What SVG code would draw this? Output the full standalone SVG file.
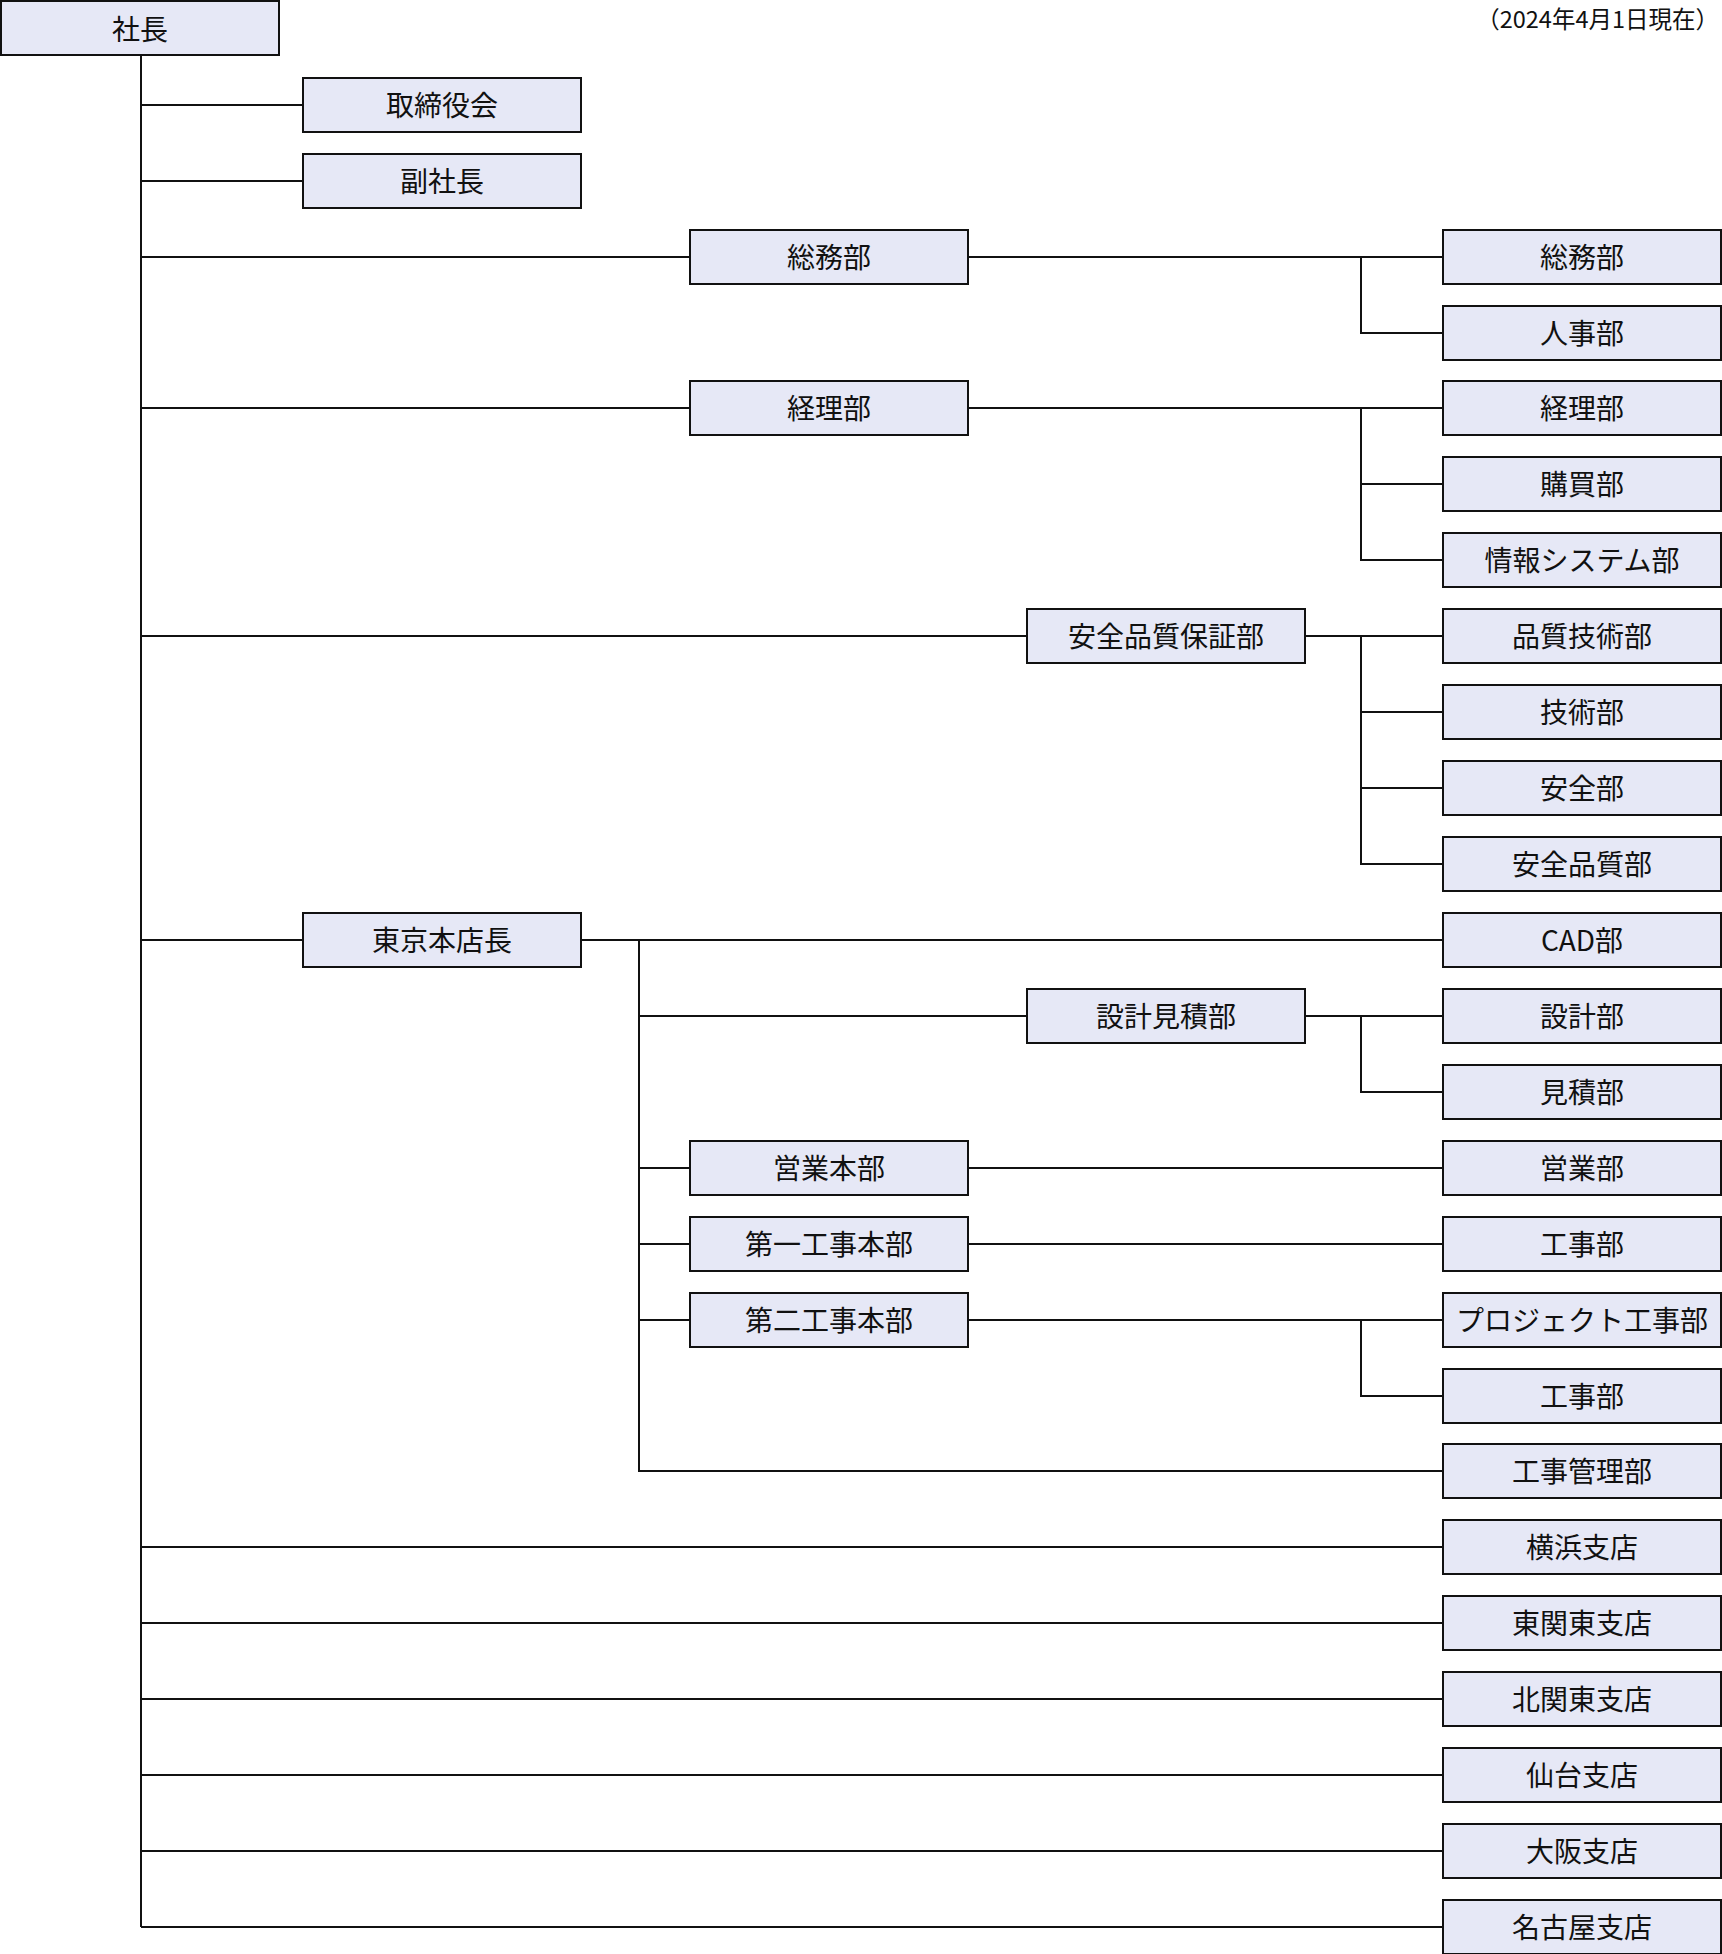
<svg xmlns="http://www.w3.org/2000/svg" width="1722" height="1954" viewBox="0 0 1722 1954">
<style>
.box{fill:#e6e8f6;stroke:#111;stroke-width:2}
.lbl{font-family:"Noto Sans CJK JP","Noto Sans",sans-serif;font-size:28px;fill:#111;text-anchor:middle;dominant-baseline:central}
.con{fill:none;stroke:#111;stroke-width:2}
.note{font-family:"Noto Sans CJK JP","Noto Sans",sans-serif;font-size:23.5px;fill:#111;text-anchor:end}
</style>
<rect width="1722" height="1954" fill="#fff"/>
<text class="note" x="1719" y="28">（2024年4月1日現在）</text>
<g id="connectors" class="con">
<path d="M141 55V1927"/>
<path d="M141 105H303M141 181H303"/>
<path d="M141 257H690M968 257H1443M1361 257V333H1443"/>
<path d="M141 408H690M968 408H1443M1361 408V560H1443M1361 484H1443"/>
<path d="M141 636H1027M1305 636H1443M1361 636V864H1443M1361 712H1443M1361 788H1443"/>
<path d="M141 940H303M581 940H1443M639 940V1471H1443"/>
<path d="M639 1016H1027M1305 1016H1443M1361 1016V1092H1443"/>
<path d="M639 1168H690M968 1168H1443"/>
<path d="M639 1244H690M968 1244H1443"/>
<path d="M639 1320H690M968 1320H1443M1361 1320V1396H1443"/>
<path d="M141 1547H1443M141 1623H1443M141 1699H1443M141 1775H1443M141 1851H1443M141 1927H1443"/>
</g>
<g id="n-shacho"><rect class="box" x="1" y="1" width="278" height="54"/><text class="lbl" x="140" y="28">社長</text></g>
<g id="n-torishimariyakukai"><rect class="box" x="303" y="78" width="278" height="54"/><text class="lbl" x="442" y="104">取締役会</text></g>
<g id="n-fukushacho"><rect class="box" x="303" y="154" width="278" height="54"/><text class="lbl" x="442" y="180">副社長</text></g>
<g id="n-somu"><rect class="box" x="690" y="230" width="278" height="54"/><text class="lbl" x="829" y="256">総務部</text></g>
<g id="n-somu2"><rect class="box" x="1443" y="230" width="278" height="54"/><text class="lbl" x="1582" y="256">総務部</text></g>
<g id="n-jinji"><rect class="box" x="1443" y="306" width="278" height="54"/><text class="lbl" x="1582" y="332">人事部</text></g>
<g id="n-keiri"><rect class="box" x="690" y="381" width="278" height="54"/><text class="lbl" x="829" y="407">経理部</text></g>
<g id="n-keiri2"><rect class="box" x="1443" y="381" width="278" height="54"/><text class="lbl" x="1582" y="407">経理部</text></g>
<g id="n-kobai"><rect class="box" x="1443" y="457" width="278" height="54"/><text class="lbl" x="1582" y="483">購買部</text></g>
<g id="n-joho"><rect class="box" x="1443" y="533" width="278" height="54"/><text class="lbl" x="1582" y="559">情報システム部</text></g>
<g id="n-anzenhinshitsuhosho"><rect class="box" x="1027" y="609" width="278" height="54"/><text class="lbl" x="1166" y="635">安全品質保証部</text></g>
<g id="n-hinshitsugijutsu"><rect class="box" x="1443" y="609" width="278" height="54"/><text class="lbl" x="1582" y="635">品質技術部</text></g>
<g id="n-gijutsu"><rect class="box" x="1443" y="685" width="278" height="54"/><text class="lbl" x="1582" y="711">技術部</text></g>
<g id="n-anzen"><rect class="box" x="1443" y="761" width="278" height="54"/><text class="lbl" x="1582" y="787">安全部</text></g>
<g id="n-anzenhinshitsu"><rect class="box" x="1443" y="837" width="278" height="54"/><text class="lbl" x="1582" y="863">安全品質部</text></g>
<g id="n-tokyo"><rect class="box" x="303" y="913" width="278" height="54"/><text class="lbl" x="442" y="939">東京本店長</text></g>
<g id="n-cad"><rect class="box" x="1443" y="913" width="278" height="54"/><text class="lbl" x="1582" y="939">CAD部</text></g>
<g id="n-sekkeimitsumori"><rect class="box" x="1027" y="989" width="278" height="54"/><text class="lbl" x="1166" y="1015">設計見積部</text></g>
<g id="n-sekkei"><rect class="box" x="1443" y="989" width="278" height="54"/><text class="lbl" x="1582" y="1015">設計部</text></g>
<g id="n-mitsumori"><rect class="box" x="1443" y="1065" width="278" height="54"/><text class="lbl" x="1582" y="1091">見積部</text></g>
<g id="n-eigyohonbu"><rect class="box" x="690" y="1141" width="278" height="54"/><text class="lbl" x="829" y="1167">営業本部</text></g>
<g id="n-eigyo"><rect class="box" x="1443" y="1141" width="278" height="54"/><text class="lbl" x="1582" y="1167">営業部</text></g>
<g id="n-daiichi"><rect class="box" x="690" y="1217" width="278" height="54"/><text class="lbl" x="829" y="1243">第一工事本部</text></g>
<g id="n-koji1"><rect class="box" x="1443" y="1217" width="278" height="54"/><text class="lbl" x="1582" y="1243">工事部</text></g>
<g id="n-daini"><rect class="box" x="690" y="1293" width="278" height="54"/><text class="lbl" x="829" y="1319">第二工事本部</text></g>
<g id="n-project"><rect class="box" x="1443" y="1293" width="278" height="54"/><text class="lbl" x="1582" y="1319">プロジェクト工事部</text></g>
<g id="n-koji2"><rect class="box" x="1443" y="1369" width="278" height="54"/><text class="lbl" x="1582" y="1395">工事部</text></g>
<g id="n-kojikanri"><rect class="box" x="1443" y="1444" width="278" height="54"/><text class="lbl" x="1582" y="1470">工事管理部</text></g>
<g id="n-yokohama"><rect class="box" x="1443" y="1520" width="278" height="54"/><text class="lbl" x="1582" y="1546">横浜支店</text></g>
<g id="n-higashikanto"><rect class="box" x="1443" y="1596" width="278" height="54"/><text class="lbl" x="1582" y="1622">東関東支店</text></g>
<g id="n-kitakanto"><rect class="box" x="1443" y="1672" width="278" height="54"/><text class="lbl" x="1582" y="1698">北関東支店</text></g>
<g id="n-sendai"><rect class="box" x="1443" y="1748" width="278" height="54"/><text class="lbl" x="1582" y="1774">仙台支店</text></g>
<g id="n-osaka"><rect class="box" x="1443" y="1824" width="278" height="54"/><text class="lbl" x="1582" y="1850">大阪支店</text></g>
<g id="n-nagoya"><rect class="box" x="1443" y="1900" width="278" height="54"/><text class="lbl" x="1582" y="1926">名古屋支店</text></g>
</svg>
